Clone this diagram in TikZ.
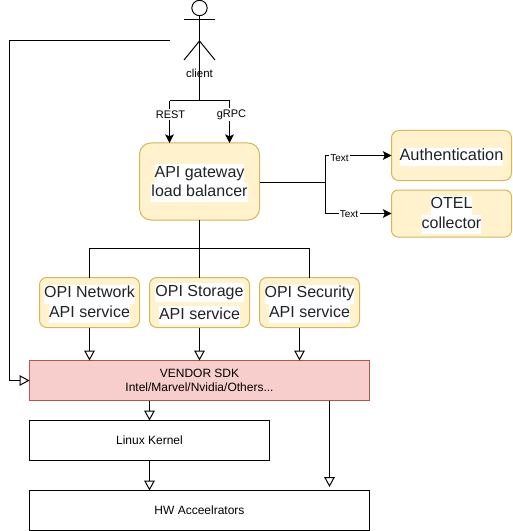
\documentclass[tikz,border=0pt]{standalone}
\usepackage{fontspec}
\setmainfont{Liberation Sans}
\usetikzlibrary{arrows.meta}
\definecolor{boxfill}{HTML}{FFF2CC}
\definecolor{boxline}{HTML}{D6B656}
\definecolor{sdkfill}{HTML}{F8CECC}
\definecolor{sdkline}{HTML}{B85450}
\definecolor{boxtext}{HTML}{1F2328}
\newcommand{\hlline}[1]{{\setlength{\fboxsep}{0pt}\colorbox{white}{\strut #1}}}
\newcommand{\hltop}[1]{\rule{0pt}{12pt}\hlline{#1}}
\tikzset{
    yellowbox/.style={draw=boxline, fill=boxfill, line width=0.75pt, inner sep=0pt, outer sep=0pt,
        align=center, text=boxtext, font=\fontsize{12}{14}\selectfont},
    flatbox/.style={draw=black, fill=white, line width=0.75pt, inner sep=0pt, outer sep=0pt,
        minimum height=30pt, align=center, font=\fontsize{9}{11}\selectfont},
    conn/.style={black, line width=0.75pt},
    openarrow/.style={conn, -{Triangle[open, length=7.5pt, width=8pt]}},
    solidarrow/.style={conn, -{Stealth[length=6.5pt, width=6.5pt, inset=1.5pt]}},
    wirelabel/.style={fill=white, inner sep=1pt, font=\fontsize{8.25}{10}\selectfont},
    textlabel/.style={fill=white, inner sep=1pt, font=\fontsize{7.5}{9}\selectfont},
}
\begin{document}
\begin{tikzpicture}[x=0.75pt, y=-0.75pt]
    \useasboundingbox (0,0) rectangle (512,531);

    \node[draw=black, circle, line width=0.75pt, minimum size=11.5pt, inner sep=0pt, outer sep=0pt] (clienthead) at (199.5,8) {};
    \coordinate (clientfoot) at (199.5,60);
    \coordinate (clienthip) at (199.5,41);
    \coordinate (clientleft) at (169.5,40.5);
    \draw[conn] (clienthead.south) -- (clienthip);
    \draw[conn] (184,20) -- (215,20);
    \draw[conn] (184,60) -- (clienthip) -- (215,60);
    \draw[conn] (clienthip) -- (clientfoot);
    \node[font=\fontsize{8.6}{10}\selectfont, inner sep=0pt] (clientname) at (199.5,73.5) {client};

    \node[yellowbox, rounded corners=8.5pt, minimum width=90pt, minimum height=57.75pt] (gateway) at (199.5,181.5)
        {\hltop{API gateway}\\[0.3pt]\hlline{load balancer}};
    \node[yellowbox, rounded corners=5.5pt, minimum width=90pt, minimum height=37.5pt] (auth) at (451.5,155.5)
        {\hltop{\fontsize{12.3}{14}\selectfont Authentication}};
    \node[yellowbox, rounded corners=5pt, minimum width=90pt, minimum height=35.25pt] (otel) at (451.5,213.5)
        {\hltop{OTEL}\\[0.6pt]\hlline{collector}};

    \node[yellowbox, rounded corners=5.5pt, minimum width=75pt, minimum height=37.5pt] (network) at (89.5,302.5)
        {\hltop{OPI Network}\\[0.6pt]\hlline{API service}};
    \node[yellowbox, rounded corners=5.5pt, minimum width=75pt, minimum height=37.5pt] (storage) at (199.5,302.5)
        {\hltop{OPI Storage}\\[3.2pt]\hlline{API service}};
    \node[yellowbox, rounded corners=5.5pt, minimum width=75pt, minimum height=37.5pt] (security) at (309.5,302.5)
        {\hltop{OPI Security}\\[0.6pt]\hlline{API service}};

    \node[flatbox, draw=sdkline, fill=sdkfill, minimum width=255pt] (sdk) at (199.5,380.5)
        {VENDOR SDK\\Intel/Marvel/Nvidia/Others...};
    \node[flatbox, minimum width=180pt] (kernel) at (149.5,440.5) {Linux Kernel};
    \node[flatbox, minimum width=255pt] (hw) at (199.5,510.5) {HW Acceelrators};

    % client to gateway
    \coordinate (clientbus) at (199.5,101);
    \coordinate (restbus) at (169.5,101);
    \coordinate (grpcbus) at (229.5,101);
    \draw[conn] (clientfoot) -- (clientbus);
    \draw[conn] (restbus) -- (grpcbus);
    \draw[solidarrow] (restbus) -- (restbus |- gateway.north) node[wirelabel, pos=0.32] (restlabel) {\hspace{1.5pt}REST};
    \draw[solidarrow] (grpcbus) -- (grpcbus |- gateway.north) node[wirelabel, pos=0.32] (grpclabel) {\hspace{3pt}gRPC};

    % gateway to the right
    \coordinate (rightbus) at (325.5,182);
    \draw[conn] (gateway.east |- rightbus) -- (rightbus);
    \draw[solidarrow] (rightbus) -- (rightbus |- auth.west) -- (auth.west);
    \draw[solidarrow] (rightbus) -- (rightbus |- otel.west) -- (otel.west);
    \node[textlabel] (authlabel) at (339.5,158.5) {Text};
    \node[textlabel] (otellabel) at (349,214) {Text};

    % gateway to services
    \coordinate (servicebus) at (199.5,248);
    \draw[conn] (gateway.south) -- (servicebus);
    \draw[conn] (network.north) -- (network.north |- servicebus) -- (security.north |- servicebus) -- (security.north);
    \draw[conn] (servicebus) -- (storage.north);

    % services to sdk
    \coordinate (securityout) at (299.5,328);
    \draw[openarrow] (network.south) -- (network.south |- sdk.north);
    \draw[openarrow] (storage.south) -- (storage.south |- sdk.north);
    \draw[openarrow] (securityout) -- (securityout |- sdk.north);

    % client to sdk
    \coordinate (leftturn) at (9.5,40.5);
    \draw[openarrow] (clientleft) -- (leftturn) -- (leftturn |- sdk.west) -- (sdk.west);

    % sdk to the lower boxes
    \coordinate (hwdirect) at (329.5,400.5);
    \draw[openarrow] (kernel.north |- sdk.south) -- (kernel.north);
    \draw[openarrow] (kernel.south) -- (kernel.south |- hw.north);
    \draw[openarrow] (hwdirect) -- (329.5,487);
\end{tikzpicture}
\end{document}
